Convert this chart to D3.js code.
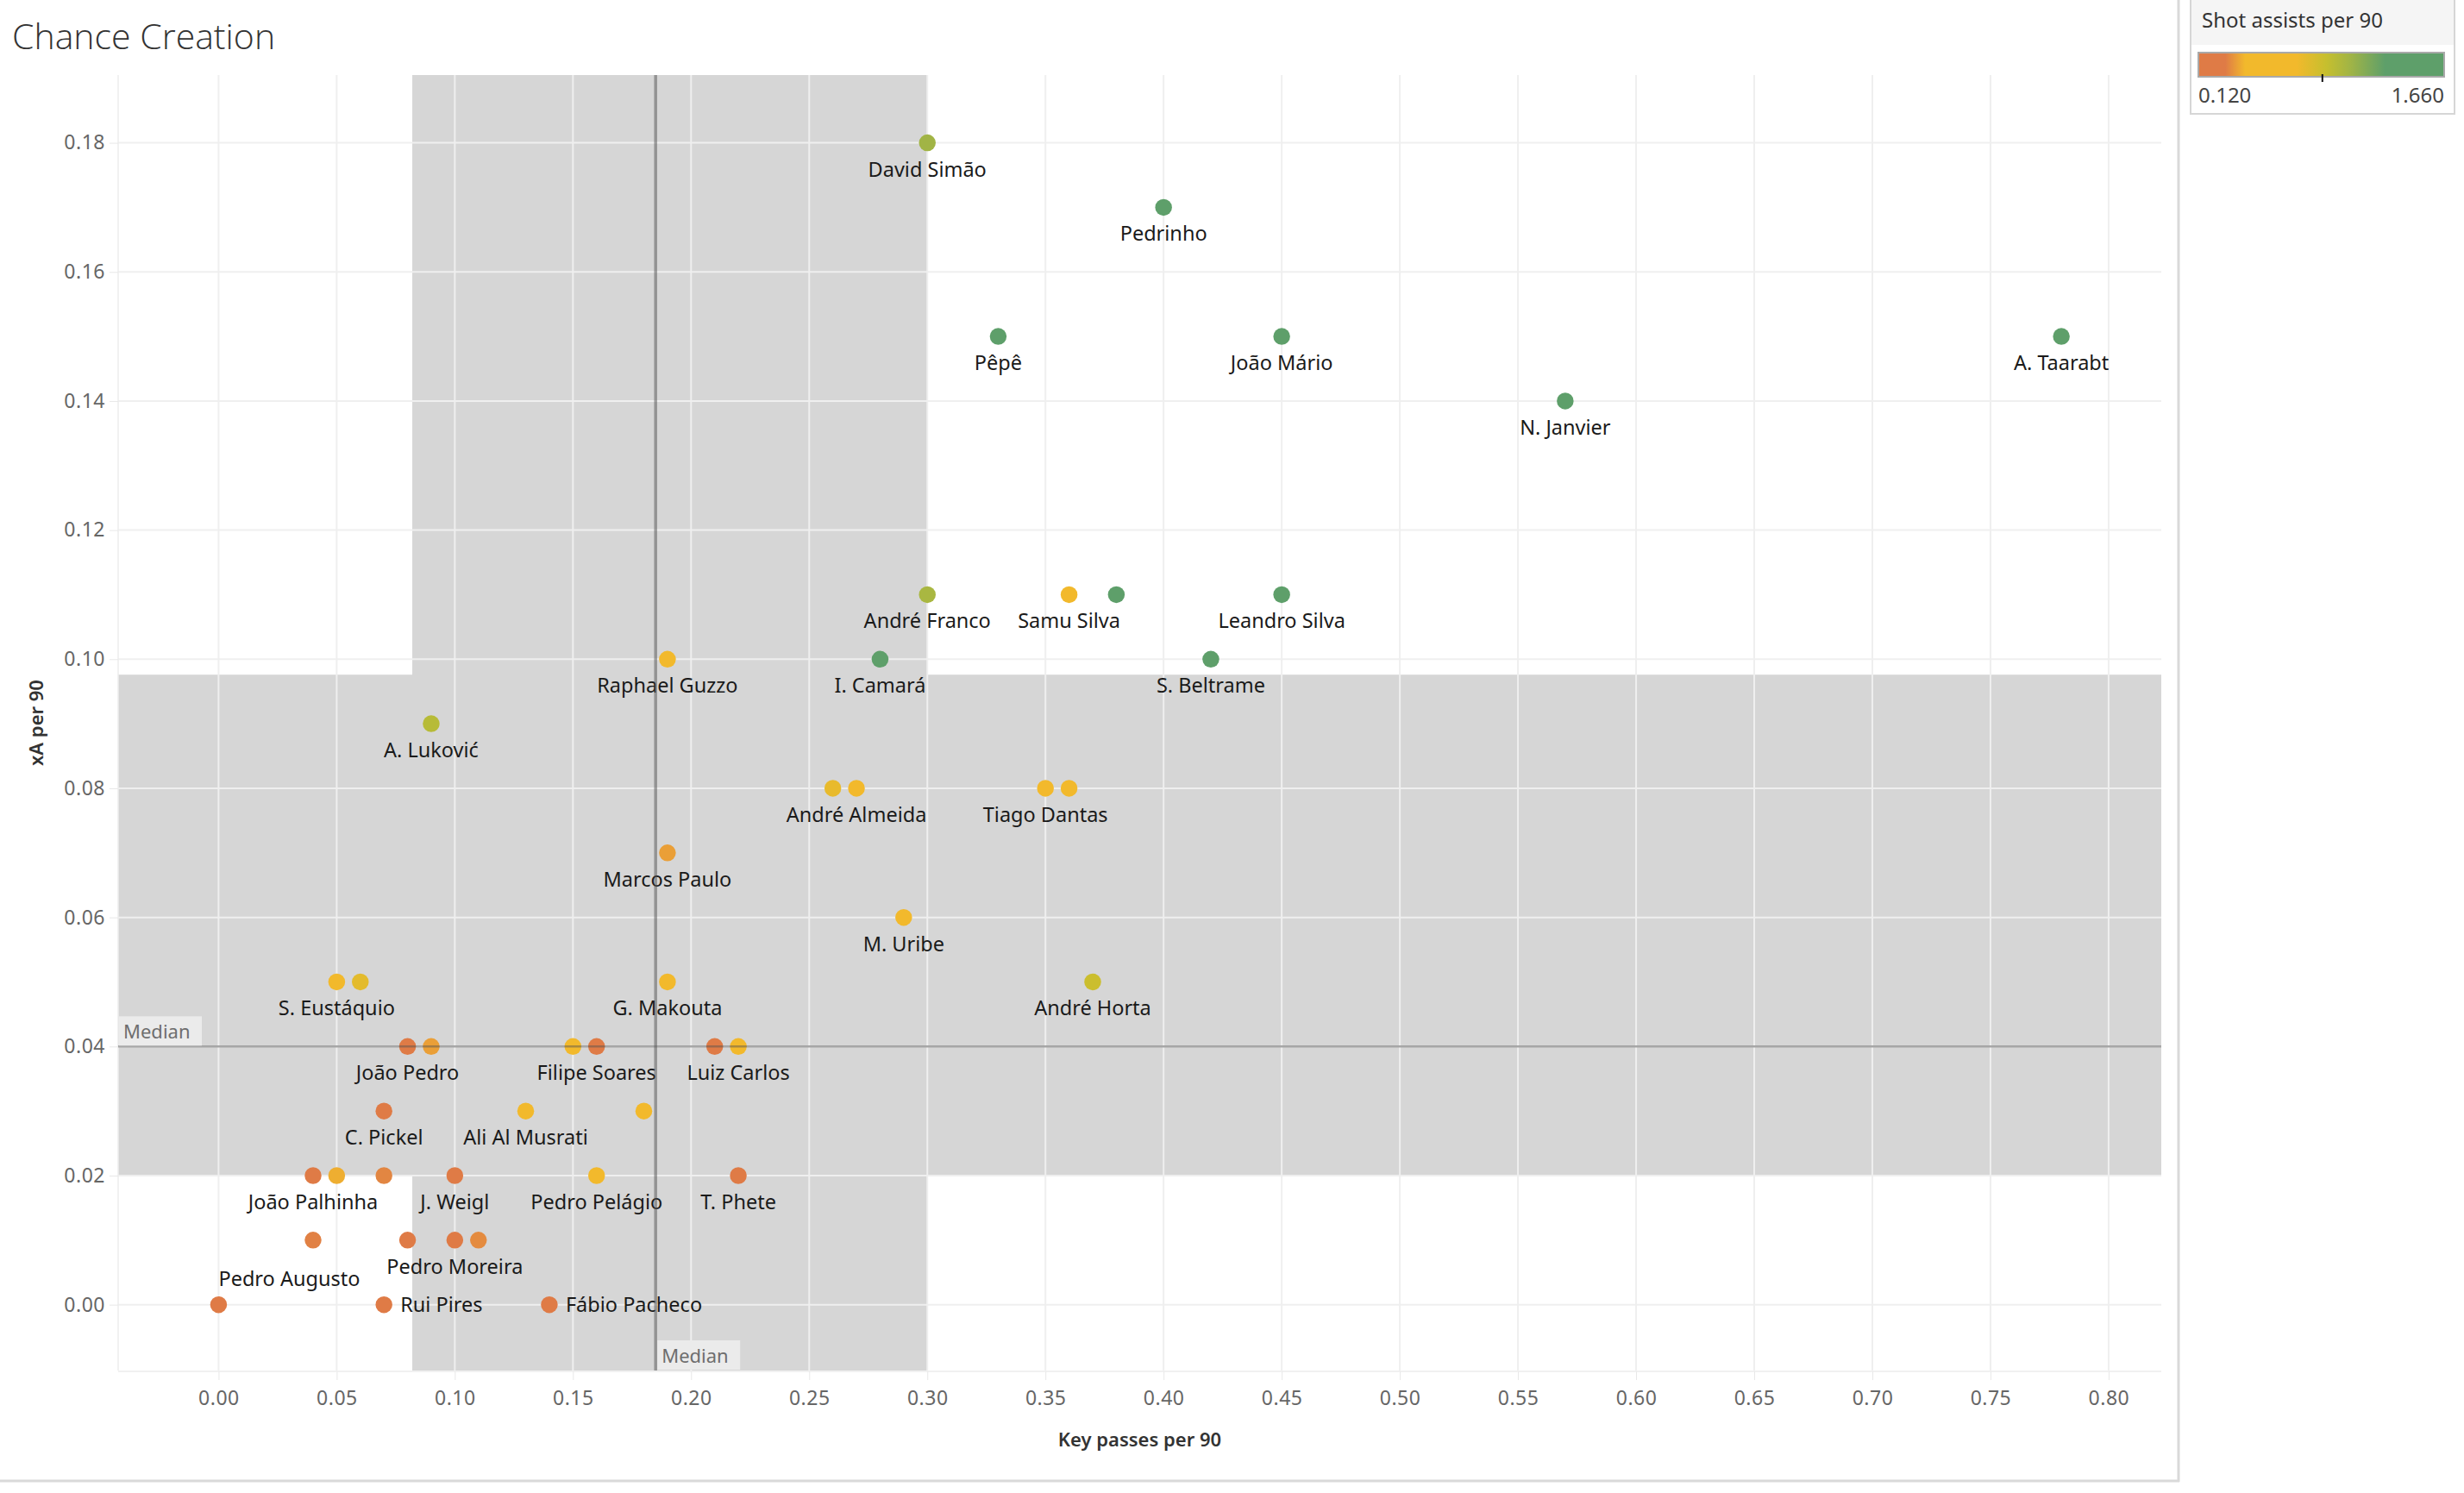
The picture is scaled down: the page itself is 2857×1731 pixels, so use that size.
<!DOCTYPE html>
<html><head><meta charset="utf-8">
<script src="https://cdn.jsdelivr.net/npm/d3@7"></script>
<style>
html,body{margin:0;padding:0;background:#fff;}
svg{display:block;font-family:"Noto Sans",sans-serif;}
</style></head><body>
<svg id="chart" width="2857" height="1731"></svg>
<script>
// ---------------- DATA ----------------
const players = [
  "David Simão","Pedrinho","Pêpê","João Mário","A. Taarabt","N. Janvier",
  "André Franco","Samu Silva",null,"Leandro Silva",
  "Raphael Guzzo","I. Camará","S. Beltrame",
  "A. Luković",null,"André Almeida","Tiago Dantas",null,
  "Marcos Paulo","M. Uribe",
  "S. Eustáquio",null,"G. Makouta","André Horta",
  "João Pedro",null,null,"Filipe Soares",null,"Luiz Carlos",
  "C. Pickel","Ali Al Musrati",null,
  "João Palhinha",null,null,"J. Weigl","Pedro Pelágio","T. Phete",
  null,null,"Pedro Moreira",null,
  "Pedro Augusto","Rui Pires","Fábio Pacheco"
];
const keyPasses = [
  0.30,0.40,0.33,0.45,0.78,0.57,
  0.30,0.36,0.38,0.45,
  0.19,0.28,0.42,
  0.09,0.26,0.27,0.35,0.36,
  0.19,0.29,
  0.05,0.06,0.19,0.37,
  0.08,0.09,0.15,0.16,0.21,0.22,
  0.07,0.13,0.18,
  0.04,0.05,0.07,0.10,0.16,0.22,
  0.04,0.08,0.10,0.11,
  0.00,0.07,0.14
];
const xAPer90 = [
  0.18,0.17,0.15,0.15,0.15,0.14,
  0.11,0.11,0.11,0.11,
  0.10,0.10,0.10,
  0.09,0.08,0.08,0.08,0.08,
  0.07,0.06,
  0.05,0.05,0.05,0.05,
  0.04,0.04,0.04,0.04,0.04,0.04,
  0.03,0.03,0.03,
  0.02,0.02,0.02,0.02,0.02,0.02,
  0.01,0.01,0.01,0.01,
  0.00,0.00,0.00
];
const shotAssists = [
  1.07,1.55,1.45,1.50,1.66,1.60,
  1.04,0.70,1.40,1.42,
  0.62,1.35,1.38,
  0.98,0.78,0.66,0.64,0.60,
  0.36,0.55,
  0.58,0.80,0.56,0.90,
  0.22,0.36,0.45,0.24,0.25,0.46,
  0.26,0.50,0.52,
  0.20,0.39,0.31,0.22,0.48,0.18,
  0.30,0.21,0.19,0.32,
  0.12,0.15,0.17
];
const xTickValues = [0,0.05,0.10,0.15,0.20,0.25,0.30,0.35,0.40,0.45,0.50,0.55,0.60,0.65,0.70,0.75,0.80];
const yTickValues = [0,0.02,0.04,0.06,0.08,0.10,0.12,0.14,0.16,0.18];
const medianKeyPasses = 0.185;
const medianXA = 0.04;
const bandKeyPasses = [0.082, 0.30];
const bandXA = [0.02, 0.0976];
const colorStopValues = [0.12, 0.289, 0.413, 0.736, 0.921, 1.075, 1.29, 1.66];
const colorStopColors = ["#df7b46","#df7b46","#f2b92c","#f2b92c","#c6bf2e","#a0b446","#5e9f6a","#5e9f6a"];
const colorRangeLabels = ["0.120","1.660"];
const colorCenter = 0.897;

// ---------------- LAYOUT ----------------
const plot = {left:137, right:2506, top:87, bottom:1589};
const svg = d3.select("#chart");
const x = d3.scaleLinear().domain([-0.0425, 0.8223]).range([plot.left, plot.right]);
const y = d3.scaleLinear().domain([-0.0102, 0.1905]).range([plot.bottom, plot.top]);
const color = d3.scaleLinear().domain(colorStopValues).range(colorStopColors).interpolate(d3.interpolateRgb);

const data = players.map((p,i)=>({name:p, kp:keyPasses[i], xa:xAPer90[i], sa:shotAssists[i]}));

// title
svg.append("text").attr("x",14).attr("y",57)
  .style("font-family","'Open Sans',sans-serif").style("font-weight",300)
  .style("font-size","41px").attr("fill","#333").text("Chance Creation");

// bands
const gBand = svg.append("g");
gBand.append("rect").attr("x",x(bandKeyPasses[0])).attr("y",plot.top)
  .attr("width",x(bandKeyPasses[1])-x(bandKeyPasses[0])).attr("height",plot.bottom-plot.top)
  .attr("fill","#d6d6d6");
gBand.append("rect").attr("x",plot.left).attr("y",y(bandXA[1]))
  .attr("width",plot.right-plot.left).attr("height",y(bandXA[0])-y(bandXA[1]))
  .attr("fill","#d6d6d6");

// gridlines
const gGrid = svg.append("g");
gGrid.selectAll(".vg").data(xTickValues).join("line")
  .attr("x1",d=>x(d)).attr("x2",d=>x(d)).attr("y1",plot.top).attr("y2",plot.bottom)
  .attr("stroke","#efefef").attr("stroke-width",2);
gGrid.selectAll(".hg").data(yTickValues).join("line")
  .attr("y1",d=>y(d)).attr("y2",d=>y(d)).attr("x1",plot.left).attr("x2",plot.right)
  .attr("stroke","#efefef").attr("stroke-width",2);
// frame
svg.append("line").attr("x1",plot.left).attr("x2",plot.left).attr("y1",plot.top).attr("y2",plot.bottom)
  .attr("stroke","#ececec").attr("stroke-width",1.5);
svg.append("line").attr("x1",plot.left).attr("x2",plot.right).attr("y1",plot.bottom+1).attr("y2",plot.bottom+1)
  .attr("stroke","#ececec").attr("stroke-width",1.5);

// axes
const fmt = d3.format(".2f");
const xAxis = svg.append("g").attr("transform",`translate(0,${plot.bottom+1})`)
  .call(d3.axisBottom(x).tickValues(xTickValues).tickFormat(fmt).tickSize(10).tickPadding(13));
const yAxis = svg.append("g").attr("transform",`translate(${plot.left},0)`)
  .call(d3.axisLeft(y).tickValues(yTickValues).tickFormat(fmt).tickSize(10).tickPadding(5));
[xAxis,yAxis].forEach(a=>{
  a.select(".domain").remove();
  a.selectAll(".tick line").attr("stroke","#e8e8e8").attr("stroke-width",1);
  a.selectAll(".tick text").attr("fill","#666").style("font-size","23px")
    .style("font-family","'Noto Sans',sans-serif").style("letter-spacing","0.5px");
});

// axis titles
svg.append("text").attr("x",(plot.left+plot.right)/2).attr("y",1677)
  .attr("text-anchor","middle").style("font-size","22px").style("font-weight",600)
  .attr("fill","#333").text("Key passes per 90");
svg.append("text").attr("transform",`translate(50,${(plot.top+plot.bottom)/2}) rotate(-90)`)
  .attr("text-anchor","middle").style("font-size","22px").style("font-weight",600)
  .attr("fill","#333").text("xA per 90");

// points
const gPts = svg.append("g");
gPts.selectAll("circle").data(data).join("circle")
  .attr("cx",d=>x(d.kp)).attr("cy",d=>y(d.xa)).attr("r",9.75)
  .attr("fill",d=>color(d.sa));

// labels
const labelPlacement = {"Pedro Augusto":"aboveRight","Rui Pires":"right","Fábio Pacheco":"right"};
const gLab = svg.append("g");
gLab.selectAll("text").data(data.filter(d=>d.name)).join("text")
  .attr("x",d=>{
    const p = labelPlacement[d.name];
    if (p==="right") return x(d.kp)+19;
    return x(d.kp);
  })
  .attr("y",d=>{
    const p = labelPlacement[d.name];
    if (p==="right") return y(d.xa)+8.5;
    if (p==="aboveRight") return y(d.xa)-22;
    return y(d.xa)+39;
  })
  .attr("text-anchor",d=>labelPlacement[d.name]?"start":"middle")
  .style("font-size","23.5px").attr("fill","#1a1a1a").text(d=>d.name);

// median lines
svg.append("line").attr("x1",x(medianKeyPasses)).attr("x2",x(medianKeyPasses))
  .attr("y1",plot.top).attr("y2",plot.bottom)
  .attr("stroke","rgba(80,80,80,0.5)").attr("stroke-width",3.5);
svg.append("line").attr("x1",plot.left).attr("x2",plot.right)
  .attr("y1",y(medianXA)).attr("y2",y(medianXA))
  .attr("stroke","rgba(80,80,80,0.45)").attr("stroke-width",2.5);

// median labels
function medianLabel(lx, ly){
  const g = svg.append("g").attr("transform",`translate(${lx},${ly})`);
  g.append("rect").attr("x",0).attr("y",0).attr("width",96).attr("height",34).attr("fill","#ebebeb");
  g.append("text").attr("x",5).attr("y",26).style("font-size","22px").attr("fill","#6e6e6e").text("Median");
}
medianLabel(plot.left+1, y(medianXA)-35);
medianLabel(x(medianKeyPasses)+2, plot.bottom-35);

// dashboard frame
svg.append("line").attr("x1",2526).attr("x2",2526).attr("y1",0).attr("y2",1718)
  .attr("stroke","#d9d9d9").attr("stroke-width",3);
svg.append("line").attr("x1",0).attr("x2",2527).attr("y1",1717).attr("y2",1717)
  .attr("stroke","#d9d9d9").attr("stroke-width",3);

// legend
const lg = svg.append("g");
lg.append("rect").attr("x",2540).attr("y",-2).attr("width",306).attr("height",134)
  .attr("fill","#fff").attr("stroke","#d6d6d6").attr("stroke-width",2);
lg.append("rect").attr("x",2541).attr("y",0).attr("width",304).attr("height",52).attr("fill","#f5f5f5");
lg.append("text").attr("x",2553).attr("y",32).style("font-size","24px").attr("fill","#333")
  .text("Shot assists per 90");
const defs = svg.append("defs");
const grad = defs.append("linearGradient").attr("id","saGrad").attr("x1","0%").attr("x2","100%");
const legX = d3.scaleLinear().domain([colorStopValues[0], colorStopValues[colorStopValues.length-1]]).range([2549, 2834]);
colorStopValues.forEach((v,i)=>{
  grad.append("stop").attr("offset",((legX(v)-2549)/285*100)+"%").attr("stop-color",colorStopColors[i]);
});
lg.append("rect").attr("x",2549).attr("y",61).attr("width",285).attr("height",28)
  .attr("fill","url(#saGrad)").attr("stroke","#a9a9a9").attr("stroke-width",2);
lg.append("line").attr("x1",legX(colorCenter)).attr("x2",legX(colorCenter)).attr("y1",86).attr("y2",95)
  .attr("stroke","#111").attr("stroke-width",2);
lg.append("text").attr("x",2549).attr("y",119).style("font-size","24px").attr("fill","#444").text(colorRangeLabels[0]);
lg.append("text").attr("x",2834).attr("y",119).attr("text-anchor","end").style("font-size","24px").attr("fill","#444").text(colorRangeLabels[1]);
</script>
</body></html>
